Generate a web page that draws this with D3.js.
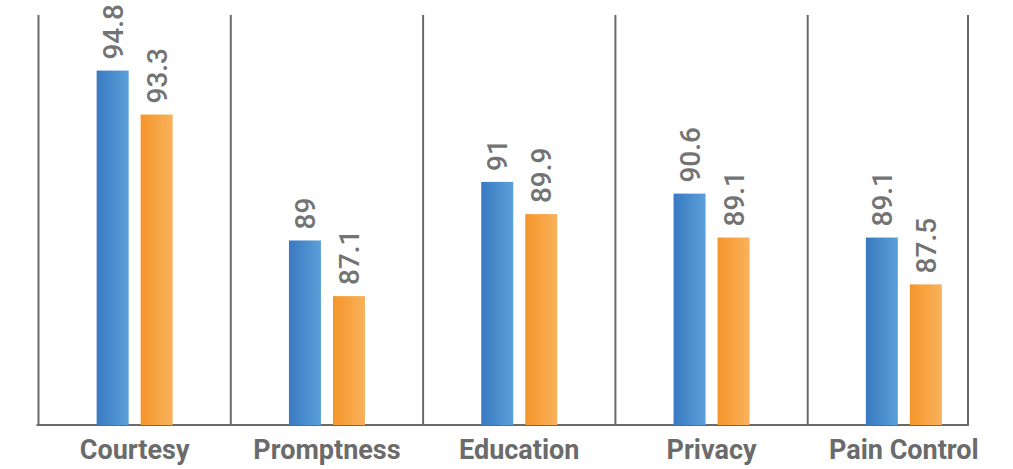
<!DOCTYPE html>
<html>
<head>
<meta charset="utf-8">
<script src="https://cdn.jsdelivr.net/npm/d3@7"></script>
<style>
  body { margin: 0; background: #fff; }
  svg { display: block; font-family: Roboto, "Noto Sans", sans-serif; }
</style>
</head>
<body>
<div class="chart"></div>
<script>
//---------------------------------------------- DATA ----------------------------------------------
var categories = ["Courtesy", "Promptness", "Education", "Privacy", "Pain Control"];
var seriesA = [94.8, 89, 91, 90.6, 89.1];
var seriesB = [93.3, 87.1, 89.9, 89.1, 87.5];

//---------------------------------------------- SVG -----------------------------------------------
var width = 1013;
var height = 469;
var baseY = 425;

var svg = d3.select(".chart").append("svg")
    .attr("width", width)
    .attr("height", height);

var defs = svg.append("defs");

var gradBlue = defs.append("linearGradient").attr("id", "gBlue");
gradBlue.append("stop").attr("offset", "0%").attr("stop-color", "#3a79c0");
gradBlue.append("stop").attr("offset", "100%").attr("stop-color", "#5aa0d9");

var gradOrange = defs.append("linearGradient").attr("id", "gOrange");
gradOrange.append("stop").attr("offset", "0%").attr("stop-color", "#f5952a");
gradOrange.append("stop").attr("offset", "100%").attr("stop-color", "#f8b25c");

var x0 = d3.scaleBand()
    .domain(categories)
    .range([38.5, 1000]);

var x1 = d3.scaleBand()
    .domain([0, 1])
    .range([x0.bandwidth() / 2 - 38, x0.bandwidth() / 2 + 38])
    .paddingInner(0.2727);

var y = d3.scaleLinear()
    .domain([82.7, 96.8])
    .range([baseY, 12]);

// separators between groups
svg.selectAll(".sep")
    .data(categories)
  .enter().append("line")
    .attr("class", "sep")
    .attr("x1", function(d) { return x0(d); })
    .attr("x2", function(d) { return x0(d); })
    .attr("y1", 15)
    .attr("y2", baseY)
    .attr("stroke", "#6a6a6a")
    .attr("stroke-width", 2);

svg.append("line")
    .attr("x1", 968).attr("x2", 968)
    .attr("y1", 15).attr("y2", baseY)
    .attr("stroke", "#6a6a6a")
    .attr("stroke-width", 2);

svg.append("line")
    .attr("x1", x0(categories[0]) - 2).attr("x2", 969)
    .attr("y1", baseY).attr("y2", baseY)
    .attr("stroke", "#6a6a6a")
    .attr("stroke-width", 2);

var rows = categories.map(function(c, i) {
  return { cat: c, vals: [seriesA[i], seriesB[i]] };
});

var groups = svg.selectAll(".grp")
    .data(rows)
  .enter().append("g")
    .attr("class", "grp")
    .attr("transform", function(d) { return "translate(" + x0(d.cat) + ",0)"; });

var bars = groups.selectAll(".bar")
    .data(function(d) { return d.vals.map(function(v, j) { return { v: v, j: j }; }); })
  .enter();

bars.append("rect")
    .attr("x", function(d) { return x1(d.j); })
    .attr("y", function(d) { return y(d.v); })
    .attr("width", x1.bandwidth())
    .attr("height", function(d) { return baseY - y(d.v); })
    .attr("fill", function(d) { return d.j === 0 ? "url(#gBlue)" : "url(#gOrange)"; });

bars.append("text")
    .attr("transform", function(d) {
      return "translate(" + (x1(d.j) + x1.bandwidth() / 2 + 10) + "," + (y(d.v) - 11) + ") rotate(-90)";
    })
    .attr("fill", "#737373")
    .style("font-size", "28px")
    .style("font-weight", "500")
    .text(function(d) { return d.v; });

// category labels
svg.selectAll(".cat")
    .data(categories)
  .enter().append("text")
    .attr("x", function(d) { return x0(d) + x0.bandwidth() / 2; })
    .attr("y", 459)
    .attr("text-anchor", "middle")
    .attr("fill", "#6b6b6b")
    .style("font-size", "27px")
    .style("font-weight", "bold")
    .text(function(d) { return d; });
</script>
</body>
</html>
